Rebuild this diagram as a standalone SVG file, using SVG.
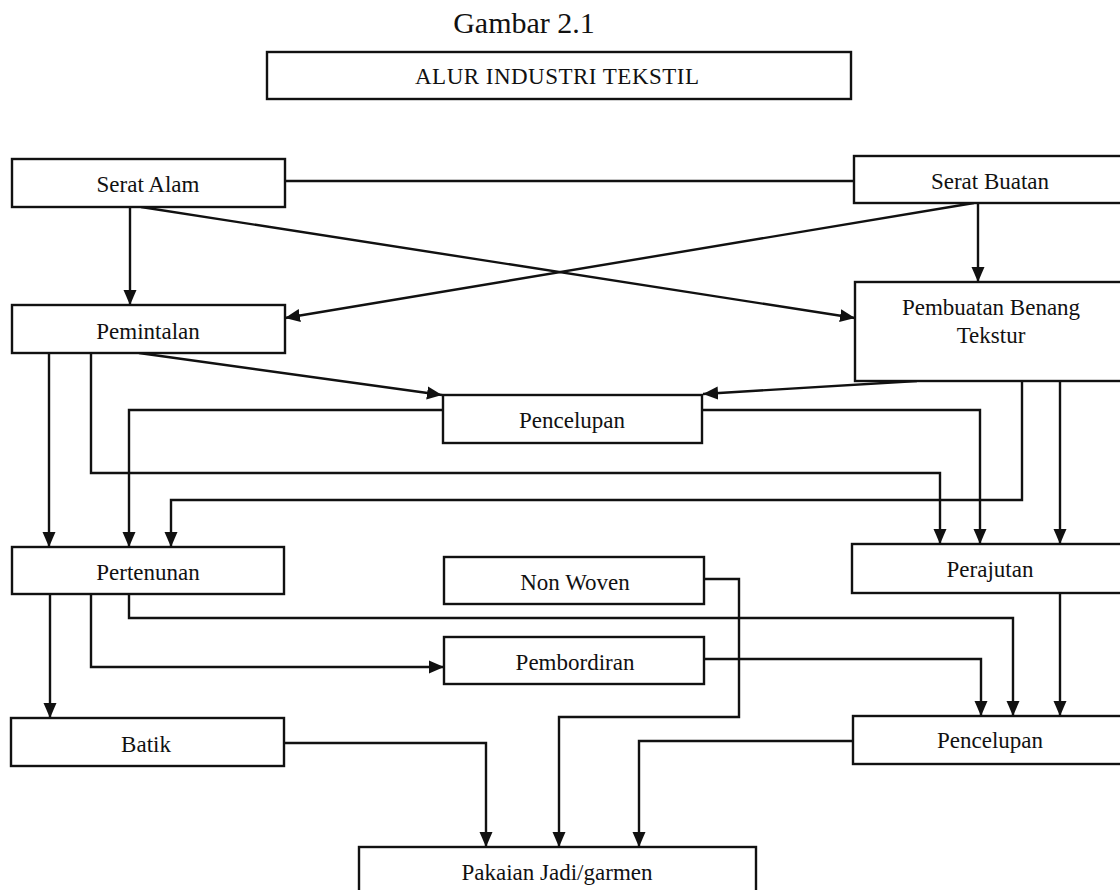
<svg xmlns="http://www.w3.org/2000/svg" width="1120" height="890" viewBox="0 0 1120 890">
  <style>
    .box { fill: #ffffff; stroke: #111111; stroke-width: 2.4; }
    .lbl { font-family: "Liberation Serif", "Times New Roman", serif; font-size: 23px; fill: #111111; text-anchor: middle; }
    .ttl { font-family: "Liberation Serif", "Times New Roman", serif; font-size: 30px; fill: #111111; text-anchor: middle; }
    .cn { fill: none; stroke: #111111; stroke-width: 2.4; }
    .ar { marker-end: url(#arrow); }
  </style>
  <defs>
    <marker id="arrow" markerUnits="userSpaceOnUse" markerWidth="16" markerHeight="14" refX="15" refY="7" orient="auto">
      <path d="M0,0.5 L15,7 L0,13.5 z" fill="#111111"/>
    </marker>
  </defs>
  <rect x="0" y="0" width="1120" height="890" fill="#ffffff"/>

  <text class="ttl" x="524" y="33">Gambar 2.1</text>

  <g id="title">
    <rect class="box" x="267" y="52" width="584" height="47"/>
    <text class="lbl" x="557" y="84" textLength="284" lengthAdjust="spacing">ALUR INDUSTRI TEKSTIL</text>
  </g>

  <g id="connectors">
    <path class="cn" d="M285,181 H854"/>
    <path class="cn ar" d="M130,207 V305"/>
    <path class="cn ar" d="M978,203 V282"/>
    <path class="cn ar" d="M141,207 L855,318"/>
    <path class="cn ar" d="M974,203 L285,318"/>
    <path class="cn ar" d="M139,353 L442,395"/>
    <path class="cn ar" d="M917,381 L703,394"/>
    <path class="cn ar" d="M443,410 H129 V547"/>
    <path class="cn ar" d="M702,410 H980 V544"/>
    <path class="cn ar" d="M49,353 V547"/>
    <path class="cn ar" d="M91,353 V473 H940 V544"/>
    <path class="cn ar" d="M1022,381 V500 H171 V547"/>
    <path class="cn ar" d="M1060,381 V544"/>
    <path class="cn ar" d="M50,594 V718"/>
    <path class="cn ar" d="M91,594 V667 H444"/>
    <path class="cn ar" d="M129,594 V618 H1013 V716"/>
    <path class="cn ar" d="M704,659 H981 V716"/>
    <path class="cn ar" d="M1060,593 V716"/>
    <path class="cn ar" d="M704,579 H739 V717 H559 V847"/>
    <path class="cn ar" d="M284,743 H486 V847"/>
    <path class="cn ar" d="M853,741 H639 V847"/>
  </g>

  <g id="serat-alam">
    <rect class="box" x="12" y="159" width="273" height="48"/>
    <text class="lbl" x="148" y="192">Serat Alam</text>
  </g>
  <g id="serat-buatan">
    <rect class="box" x="854" y="156" width="273" height="47"/>
    <text class="lbl" x="990" y="189">Serat Buatan</text>
  </g>
  <g id="pemintalan">
    <rect class="box" x="12" y="305" width="273" height="48"/>
    <text class="lbl" x="148" y="339">Pemintalan</text>
  </g>
  <g id="pembuatan-benang">
    <rect class="box" x="855" y="282" width="272" height="99"/>
    <text class="lbl" x="991" y="315">Pembuatan Benang</text>
    <text class="lbl" x="991" y="343">Tekstur</text>
  </g>
  <g id="pencelupan-1">
    <rect class="box" x="443" y="395" width="259" height="48"/>
    <text class="lbl" x="572" y="428">Pencelupan</text>
  </g>
  <g id="pertenunan">
    <rect class="box" x="12" y="547" width="272" height="47"/>
    <text class="lbl" x="148" y="580">Pertenunan</text>
  </g>
  <g id="non-woven">
    <rect class="box" x="444" y="557" width="260" height="47"/>
    <text class="lbl" x="575" y="590">Non Woven</text>
  </g>
  <g id="perajutan">
    <rect class="box" x="852" y="544" width="275" height="49"/>
    <text class="lbl" x="990" y="577">Perajutan</text>
  </g>
  <g id="pembordiran">
    <rect class="box" x="444" y="637" width="260" height="47"/>
    <text class="lbl" x="575" y="670">Pembordiran</text>
  </g>
  <g id="batik">
    <rect class="box" x="11" y="718" width="273" height="48"/>
    <text class="lbl" x="146" y="752">Batik</text>
  </g>
  <g id="pencelupan-2">
    <rect class="box" x="853" y="716" width="274" height="48"/>
    <text class="lbl" x="990" y="748">Pencelupan</text>
  </g>
  <g id="pakaian-jadi">
    <rect class="box" x="359" y="847" width="397" height="60"/>
    <text class="lbl" x="557" y="880">Pakaian Jadi/garmen</text>
  </g>
</svg>
